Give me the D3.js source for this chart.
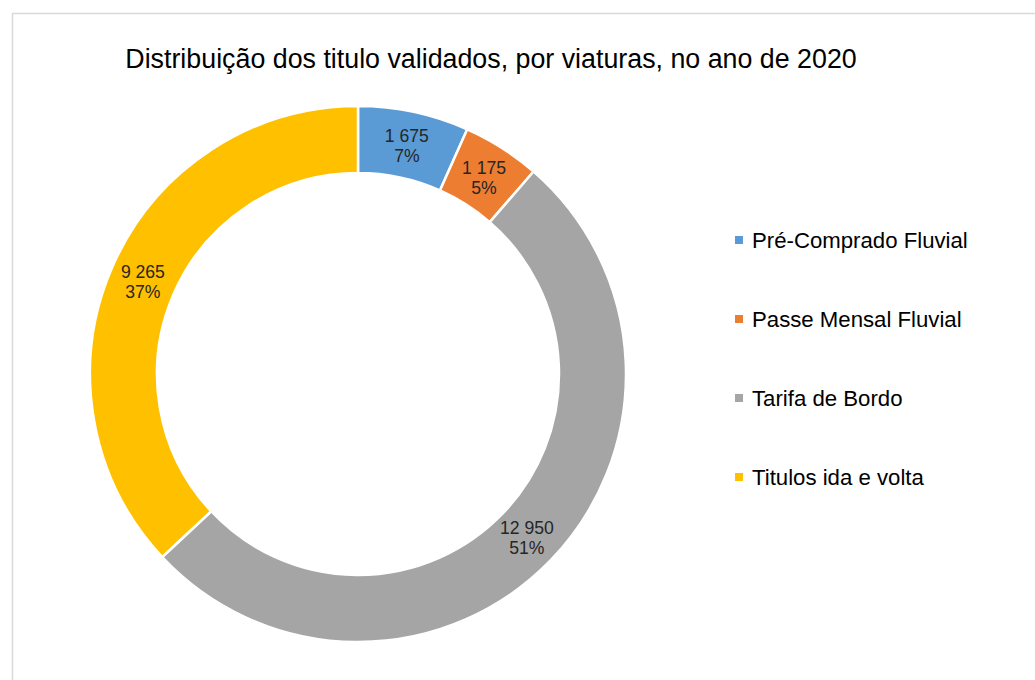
<!DOCTYPE html>
<html>
<head>
<meta charset="utf-8">
<script src="https://cdn.jsdelivr.net/npm/d3@7"></script>
<style>
  html, body { margin: 0; padding: 0; background: #fff; }
  svg { display: block; font-family: "Liberation Sans", Arial, sans-serif; }
</style>
</head>
<body>
<svg id="chart" width="1035" height="680"></svg>
<script>
// Validated tickets by type, 2020
const categories = ["Pré-Comprado Fluvial", "Passe Mensal Fluvial", "Tarifa de Bordo", "Titulos ida e volta"];
const values = [1675, 1175, 12950, 9265];
const valueLabels = ["1 675", "1 175", "12 950", "9 265"];
const percentLabels = ["7%", "5%", "51%", "37%"];
const colors = ["#5B9BD5", "#ED7D31", "#A5A5A5", "#FFC000"];
const title = "Distribuição dos titulo validados, por viaturas, no ano de 2020";

const svg = d3.select("#chart");

// chart area frame
svg.append("rect")
  .attr("x", 12.5).attr("y", 13.5)
  .attr("width", 1100).attr("height", 800)
  .attr("fill", "#fff")
  .attr("stroke", "#d9d9d9")
  .attr("stroke-width", 1.5);

svg.append("text")
  .attr("x", 491).attr("y", 68)
  .attr("text-anchor", "middle")
  .attr("font-size", 26.8)
  .attr("fill", "#000")
  .text(title);

const cx = 358, cy = 374, rOuter = 268, rInner = 201;

const pie = d3.pie().sort(null).value(d => d.value);
const data = categories.map((c, i) => ({ name: c, value: values[i], i }));
const arcs = pie(data);

const arc = d3.arc().innerRadius(rInner).outerRadius(rOuter);
const labelArc = d3.arc().innerRadius((rInner + rOuter) / 2).outerRadius((rInner + rOuter) / 2);

const g = svg.append("g").attr("transform", `translate(${cx},${cy})`);

g.selectAll("path.slice")
  .data(arcs)
  .join("path")
  .attr("class", "slice")
  .attr("d", arc)
  .attr("fill", d => colors[d.data.i])
  .attr("stroke", "#fff")
  .attr("stroke-width", 2.5)
  .attr("stroke-linejoin", "round");

const labels = g.selectAll("text.lbl")
  .data(arcs)
  .join("text")
  .attr("class", "lbl")
  .attr("transform", d => `translate(${labelArc.centroid(d)})`)
  .attr("text-anchor", "middle")
  .attr("font-size", 17.6)
  .attr("fill", "#262626");

labels.append("tspan")
  .attr("x", 0).attr("dy", "-0.15em")
  .text(d => valueLabels[d.data.i]);
labels.append("tspan")
  .attr("x", 0).attr("dy", "1.15em")
  .text(d => percentLabels[d.data.i]);

// legend
const legend = svg.append("g").attr("transform", "translate(735,240)");
const rowStep = 79;
const item = legend.selectAll("g.item")
  .data(categories)
  .join("g")
  .attr("class", "item")
  .attr("transform", (d, i) => `translate(0,${i * rowStep})`);

item.append("rect")
  .attr("x", 0).attr("y", -4)
  .attr("width", 8).attr("height", 8)
  .attr("fill", (d, i) => colors[i]);

item.append("text")
  .attr("x", 17).attr("y", 0)
  .attr("dy", "0.36em")
  .attr("font-size", 22.2)
  .attr("fill", "#000")
  .text(d => d);
</script>
</body>
</html>
